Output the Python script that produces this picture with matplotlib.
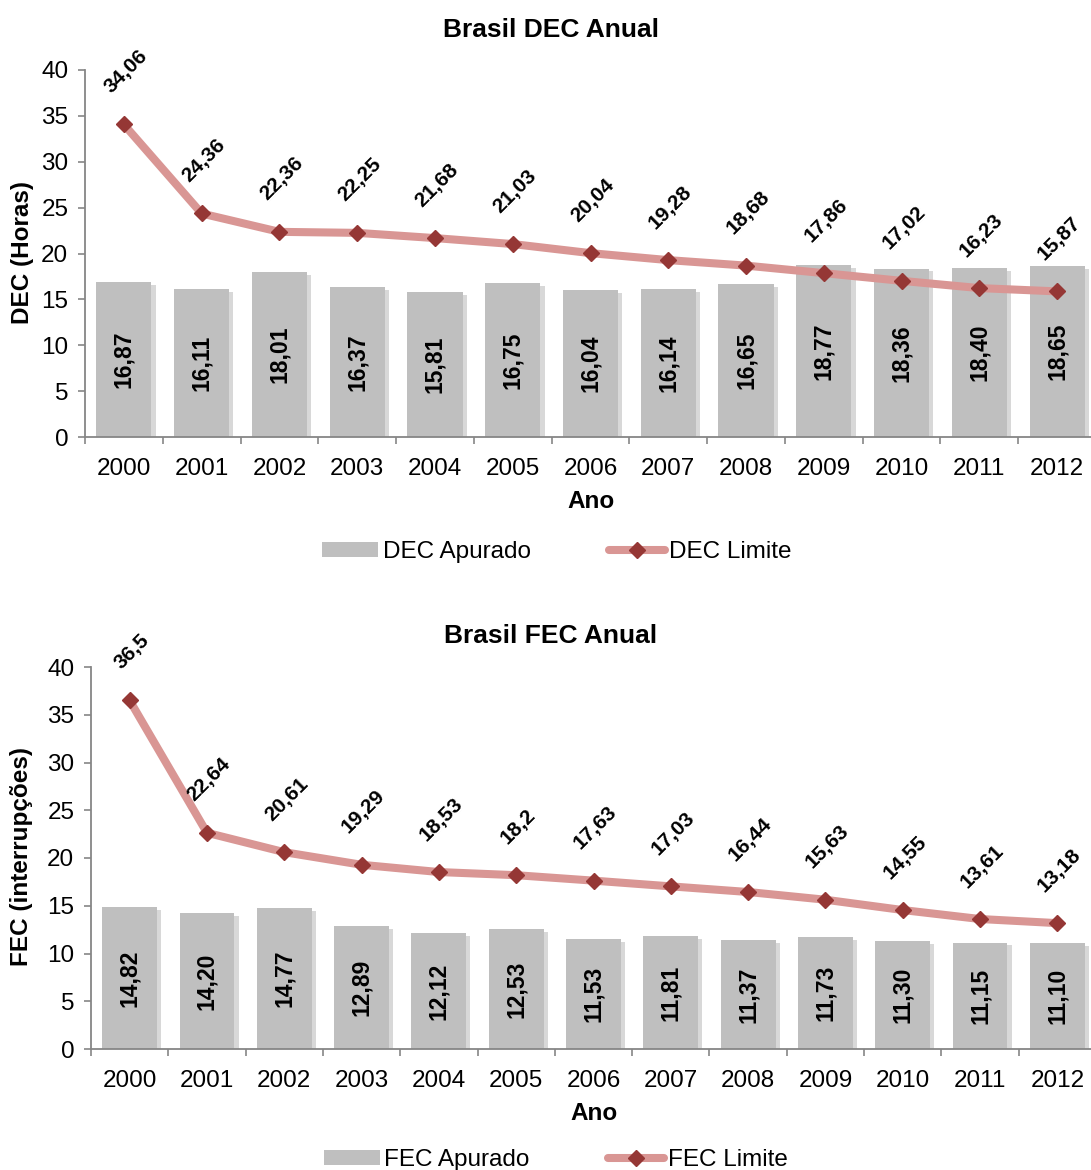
import numpy as np
import matplotlib.pyplot as plt
import matplotlib.patheffects as pe
from matplotlib.patches import Patch

plt.rcParams['font.family'] = ['Liberation Sans', 'DejaVu Sans']

anos = ['2000', '2001', '2002', '2003', '2004', '2005', '2006',
        '2007', '2008', '2009', '2010', '2011', '2012']

dec_apurado = [16.87, 16.11, 18.01, 16.37, 15.81, 16.75, 16.04,
               16.14, 16.65, 18.77, 18.36, 18.40, 18.65]
dec_limite = [34.06, 24.36, 22.36, 22.25, 21.68, 21.03, 20.04,
              19.28, 18.68, 17.86, 17.02, 16.23, 15.87]

fec_apurado = [14.82, 14.20, 14.77, 12.89, 12.12, 12.53, 11.53,
               11.81, 11.37, 11.73, 11.30, 11.15, 11.10]
fec_limite = [36.5, 22.64, 20.61, 19.29, 18.53, 18.2, 17.63,
              17.03, 16.44, 15.63, 14.55, 13.61, 13.18]

# rótulos da linha: 36,5 e 18,2 aparecem sem o zero final
fec_limite_txt = ['36,5', '22,64', '20,61', '19,29', '18,53', '18,2', '17,63',
                  '17,03', '16,44', '15,63', '14,55', '13,61', '13,18']

COR_BARRA = '#BFBFBF'
COR_LINHA = '#D99694'
COR_MARCA = '#953735'
COR_EIXO = '#868686'

W, H = 1091, 1170
fig = plt.figure(figsize=(W / 100, H / 100), dpi=100)


def virgula(v):
    return f'{v:.2f}'.replace('.', ',')


def grafico(rect, apurado, limite, txt_limite, nome_ap, nome_lim, leg_xy):
    ax = fig.add_axes(rect)
    x = np.arange(len(anos))
    barras = ax.bar(x, apurado, width=0.71, color=COR_BARRA, zorder=2)
    for b in barras:
        b.set_path_effects([pe.SimplePatchShadow(offset=(3, -2), shadow_rgbFace='#7f7f7f', alpha=0.3),
                            pe.Normal()])
    ln, = ax.plot(x, limite, color=COR_LINHA, lw=5.8, marker='D', ms=8.5,
                  mfc=COR_MARCA, mec=COR_MARCA, zorder=3, solid_capstyle='round')

    for i, v in enumerate(apurado):
        ax.text(i, v / 2, virgula(v), rotation=90, ha='center', va='center',
                fontsize=16.5, fontweight='bold', zorder=4)
    for i, v in enumerate(limite):
        ax.annotate(txt_limite[i], (i, v), xytext=(1.5, 20), textcoords='offset points',
                    rotation=45, ha='center', va='bottom', fontsize=15,
                    fontweight='bold', zorder=4)

    ax.set_xlim(-0.5, len(anos) - 0.5)
    ax.set_ylim(0, 40)
    ax.set_yticks(range(0, 41, 5))
    ax.set_xticks(x)
    ax.set_xticklabels(anos)
    ax.set_xticks(np.arange(-0.5, len(anos), 1.0), minor=True)
    ax.tick_params(axis='x', which='major', length=0, pad=15, labelsize=17.5)
    ax.tick_params(axis='x', which='minor', length=5, width=1.2, color=COR_EIXO)
    ax.tick_params(axis='y', length=5, width=1.2, color=COR_EIXO, pad=7, labelsize=17.5)
    for s in ['top', 'right']:
        ax.spines[s].set_visible(False)
    for s in ['left', 'bottom']:
        ax.spines[s].set_color(COR_EIXO)
        ax.spines[s].set_linewidth(1.3)

    patch = Patch(facecolor=COR_BARRA, edgecolor='none')
    fig.legend([patch, ln], [nome_ap, nome_lim], loc='center',
               bbox_to_anchor=leg_xy, ncol=2, frameon=False, fontsize=17.5,
               handlelength=2.3, handleheight=0.6, handletextpad=0.2,
               columnspacing=3.2)
    return ax


# gráfico DEC
grafico([85 / W, 1 - 437 / H, 1011 / W, 367 / H], dec_apurado, dec_limite,
        [virgula(v) for v in dec_limite], 'DEC Apurado', 'DEC Limite',
        (557 / W, 1 - 552 / H))
fig.text(551 / W, 1 - 30 / H, 'Brasil DEC Anual', ha='center', va='center',
         fontsize=19, fontweight='bold')
fig.text(22 / W, 1 - 253 / H, 'DEC (Horas)', rotation=90, ha='center', va='center',
         fontsize=17.5, fontweight='bold')
fig.text(591 / W, 1 - 502 / H, 'Ano', ha='center', va='center',
         fontsize=17.5, fontweight='bold')

# gráfico FEC
grafico([91 / W, 1 - 1049 / H, 1005 / W, 382 / H], fec_apurado, fec_limite,
        fec_limite_txt, 'FEC Apurado', 'FEC Limite',
        (556 / W, 1 - 1160 / H))
fig.text(551 / W, 1 - 636 / H, 'Brasil FEC Anual', ha='center', va='center',
         fontsize=19, fontweight='bold')
fig.text(22 / W, 1 - 856 / H, 'FEC (interrupções)', rotation=90, ha='center', va='center',
         fontsize=17.5, fontweight='bold')
fig.text(594 / W, 1 - 1113 / H, 'Ano', ha='center', va='center',
         fontsize=17.5, fontweight='bold')

fig.savefig('out.png', dpi=100)
